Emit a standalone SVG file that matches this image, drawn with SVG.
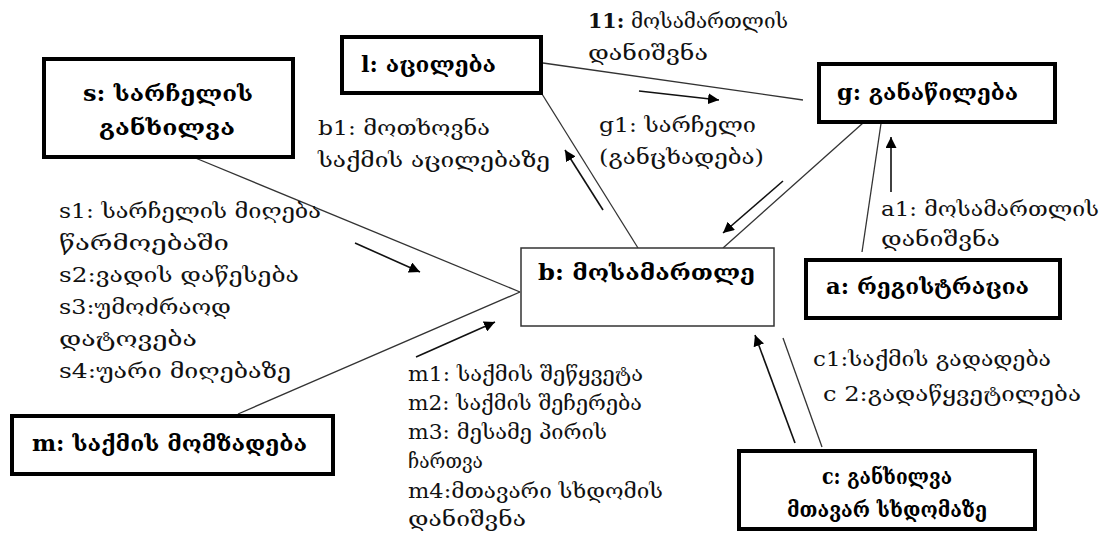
<svg xmlns="http://www.w3.org/2000/svg" width="1114" height="534" viewBox="0 0 1114 534">
<defs>
<marker id="ah" viewBox="0 0 10 10" refX="10" refY="5" markerWidth="11" markerHeight="11" markerUnits="userSpaceOnUse" orient="auto"><path d="M0,0 L10,5 L0,10 z" fill="#000"/></marker>
<style>
.box{fill:#fff;stroke:#000;stroke-width:4}
.thin{fill:#fff;stroke:#333;stroke-width:1.5}
.con{stroke:#333;stroke-width:1.3;fill:none}
.arr{stroke:#111;stroke-width:1.6;fill:none;marker-end:url(#ah)}
.nt{font-family:"DejaVu Serif","DejaVu Sans",serif;font-size:22px;font-weight:bold;fill:#000}
.lt{font-family:"DejaVu Serif","DejaVu Sans",serif;font-size:20px;fill:#111}
</style>
</defs>
<rect width="1114" height="534" fill="#fff"/>
<g id="connectors">
<line class="con" x1="193" y1="157" x2="520" y2="292"/>
<line class="con" x1="238" y1="414" x2="520" y2="292"/>
<line class="con" x1="542" y1="94" x2="638" y2="248"/>
<line class="con" x1="543" y1="63" x2="803" y2="100"/>
<line class="con" x1="863" y1="123" x2="723" y2="248"/>
<line class="con" x1="883" y1="110" x2="862" y2="252"/>
<line class="con" x1="822" y1="447" x2="783" y2="338"/>
<line class="arr" x1="355" y1="243" x2="420" y2="272"/>
<line class="arr" x1="416" y1="357" x2="495" y2="322"/>
<line class="arr" x1="603" y1="210" x2="565" y2="150"/>
<line class="arr" x1="639" y1="91" x2="719" y2="100"/>
<line class="arr" x1="783" y1="181" x2="723" y2="233"/>
<line class="arr" x1="891" y1="192" x2="891" y2="137"/>
<line class="arr" x1="795" y1="443" x2="755" y2="335"/>
</g>
<g id="labels">
<text class="lt" x="588" y="28" textLength="200" lengthAdjust="spacingAndGlyphs"><tspan font-weight="bold">11:</tspan> მოსამართლის</text>
<text class="lt" x="588" y="60" textLength="120" lengthAdjust="spacingAndGlyphs">დანიშვნა</text>
<text class="lt" x="318" y="135" textLength="172" lengthAdjust="spacingAndGlyphs">b1: მოთხოვნა</text>
<text class="lt" x="318" y="167" textLength="232" lengthAdjust="spacingAndGlyphs">საქმის აცილებაზე</text>
<text class="lt" x="599" y="132" textLength="157" lengthAdjust="spacingAndGlyphs">g1: სარჩელი</text>
<text class="lt" x="599" y="164" textLength="165" lengthAdjust="spacingAndGlyphs">(განცხადება)</text>
<text class="lt" x="59" y="218" textLength="262" lengthAdjust="spacingAndGlyphs">s1: სარჩელის მიღება</text>
<text class="lt" x="59" y="250" textLength="170" lengthAdjust="spacingAndGlyphs">წარმოებაში</text>
<text class="lt" x="59" y="282" textLength="240" lengthAdjust="spacingAndGlyphs">s2:ვადის დაწესება</text>
<text class="lt" x="59" y="314" textLength="172" lengthAdjust="spacingAndGlyphs">s3:უმოძრაოდ</text>
<text class="lt" x="59" y="346" textLength="138" lengthAdjust="spacingAndGlyphs">დატოვება</text>
<text class="lt" x="59" y="378" textLength="232" lengthAdjust="spacingAndGlyphs">s4:უარი მიღებაზე</text>
<text class="lt" x="881" y="216" textLength="218" lengthAdjust="spacingAndGlyphs">a1: მოსამართლის</text>
<text class="lt" x="881" y="246" textLength="119" lengthAdjust="spacingAndGlyphs">დანიშვნა</text>
<text class="lt" x="408" y="381" textLength="235" lengthAdjust="spacingAndGlyphs">m1: საქმის შეწყვეტა</text>
<text class="lt" x="408" y="410" textLength="234" lengthAdjust="spacingAndGlyphs">m2: საქმის შეჩერება</text>
<text class="lt" x="408" y="439" textLength="199" lengthAdjust="spacingAndGlyphs">m3: მესამე პირის</text>
<text class="lt" x="408" y="468" textLength="75" lengthAdjust="spacingAndGlyphs">ჩართვა</text>
<text class="lt" x="408" y="498" textLength="255" lengthAdjust="spacingAndGlyphs">m4:მთავარი სხდომის</text>
<text class="lt" x="408" y="526" textLength="118" lengthAdjust="spacingAndGlyphs">დანიშვნა</text>
<text class="lt" x="813" y="366" textLength="238" lengthAdjust="spacingAndGlyphs">c1:საქმის გადადება</text>
<text class="lt" x="823" y="401" textLength="258" lengthAdjust="spacingAndGlyphs">c 2:გადაწყვეტილება</text>
</g>
<g id="node-s">
<rect class="box" x="44" y="59" width="249" height="98"/>
<text class="nt" x="83" y="101" textLength="170" lengthAdjust="spacingAndGlyphs">s: სარჩელის</text>
<text class="nt" x="99" y="135" textLength="136" lengthAdjust="spacingAndGlyphs">განხილვა</text>
</g>
<g id="node-l">
<rect class="box" x="342" y="37" width="199" height="56"/>
<text class="nt" x="361" y="72" textLength="135" lengthAdjust="spacingAndGlyphs">l: აცილება</text>
</g>
<g id="node-g">
<rect class="box" x="819" y="64" width="236" height="58"/>
<text class="nt" x="837" y="100" textLength="181" lengthAdjust="spacingAndGlyphs">g: განაწილება</text>
</g>
<g id="node-b">
<rect class="thin" x="521" y="248" width="253" height="78"/>
<text class="nt" x="538" y="280" textLength="217" lengthAdjust="spacingAndGlyphs">b: მოსამართლე</text>
</g>
<g id="node-a">
<rect class="box" x="806" y="260" width="254" height="58"/>
<text class="nt" x="826" y="294" textLength="203" lengthAdjust="spacingAndGlyphs">a: რეგისტრაცია</text>
</g>
<g id="node-m">
<rect class="box" x="12" y="416" width="321" height="58"/>
<text class="nt" x="32" y="451" textLength="275" lengthAdjust="spacingAndGlyphs">m: საქმის მომზადება</text>
</g>
<g id="node-c">
<rect class="box" x="739" y="451" width="296" height="78"/>
<text class="nt" x="887" y="484" text-anchor="middle" textLength="130" lengthAdjust="spacingAndGlyphs">c: განხილვა</text>
<text class="nt" x="887" y="517" text-anchor="middle" textLength="200" lengthAdjust="spacingAndGlyphs">მთავარ სხდომაზე</text>
</g>
</svg>
